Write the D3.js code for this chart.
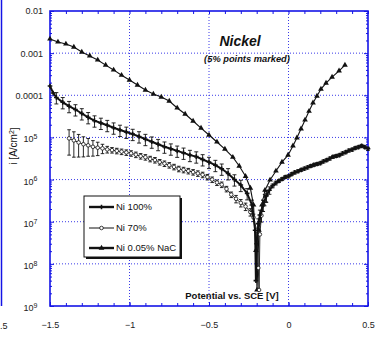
<!DOCTYPE html>
<html>
<head>
<meta charset="utf-8">
<script src="https://cdn.jsdelivr.net/npm/d3@7"></script>
<style>
  body { margin: 0; background: #fff; }
  svg { display: block; font-family: Arial, "Liberation Sans", sans-serif; }
</style>
</head>
<body>
<svg id="chart" width="376" height="340"></svg>
<script>
// potentials [V vs SCE] and current densities [A/cm2]
var ni100V = [-1.50,-1.48,-1.46,-1.42,-1.38,-1.34,-1.30,-1.26,-1.22,-1.18,-1.14,-1.10,-1.06,-1.02,-0.98,-0.94,-0.90,-0.86,-0.82,-0.78,-0.74,-0.70,-0.66,-0.62,-0.58,-0.54,-0.50,-0.46,-0.42,-0.38,-0.34,-0.30,-0.26,-0.23,-0.21,-0.205,-0.20,-0.19,-0.18,-0.16,-0.14,-0.12,-0.10,-0.08,-0.06,-0.04,-0.02,0.00,0.02,0.04,0.06,0.08,0.10,0.12,0.14,0.16,0.18,0.20,0.22,0.24,0.26,0.28,0.30,0.32,0.34,0.36,0.38,0.40,0.42,0.44,0.46,0.48,0.50];
var ni100I = [1.66e-4,1.13e-4,8.9e-5,6.8e-5,5.5e-5,4.6e-5,3.7e-5,3.0e-5,2.5e-5,2.2e-5,1.95e-5,1.7e-5,1.5e-5,1.35e-5,1.2e-5,1.05e-5,9.1e-6,7.9e-6,6.9e-6,6.0e-6,5.4e-6,4.8e-6,4.3e-6,3.8e-6,3.5e-6,3.0e-6,2.6e-6,2.2e-6,1.8e-6,1.4e-6,1.0e-6,7.4e-7,4.7e-7,2.5e-7,6.3e-8,4.0e-9,3.0e-8,9.0e-8,1.45e-7,2.5e-7,4.1e-7,5.6e-7,7.1e-7,8.3e-7,9.3e-7,1.03e-6,1.15e-6,1.2e-6,1.35e-6,1.48e-6,1.58e-6,1.7e-6,1.82e-6,1.95e-6,2.1e-6,2.24e-6,2.34e-6,2.45e-6,2.7e-6,2.9e-6,3.16e-6,3.47e-6,3.63e-6,3.8e-6,4.17e-6,4.47e-6,4.9e-6,5.13e-6,5.6e-6,5.9e-6,6.3e-6,5.9e-6,5.4e-6];
// relative error (fraction of i)
var ni100Err = [0,0,0.3,0.3,0.3,0.3,0.3,0.3,0.3,0.3,0.3,0.3,0.3,0.3,0.3,0.3,0.3,0.3,0.3,0.3,0.3,0.3,0.3,0.3,0.3,0.3,0.3,0.3,0.3,0.3,0.3,0.3,0.3,0.3,0,0,0,0.3,0.3,0.3,0.3,0.2,0.1,0.1,0.08,0.08,0.08,0.08,0.08,0.08,0.08,0.08,0.08,0.08,0.08,0.08,0.08,0.08,0.08,0.08,0.08,0.08,0.08,0.08,0.08,0.08,0.08,0.08,0.08,0.08,0.08,0.08,0.08];

var ni70V = [-1.38,-1.35,-1.32,-1.29,-1.26,-1.23,-1.20,-1.17,-1.14,-1.11,-1.08,-1.05,-1.02,-0.99,-0.96,-0.93,-0.90,-0.87,-0.84,-0.81,-0.78,-0.75,-0.72,-0.69,-0.66,-0.63,-0.60,-0.57,-0.54,-0.51,-0.48,-0.45,-0.42,-0.39,-0.36,-0.33,-0.30,-0.27,-0.24,-0.22,-0.20,-0.19,-0.185,-0.18,-0.17,-0.16,-0.15,-0.14];
var ni70I = [9.5e-6,8.5e-6,7.6e-6,6.9e-6,6.5e-6,6.0e-6,5.7e-6,5.5e-6,5.2e-6,5.0e-6,4.8e-6,4.6e-6,4.4e-6,4.2e-6,3.9e-6,3.6e-6,3.4e-6,3.1e-6,2.9e-6,2.6e-6,2.4e-6,2.2e-6,2.0e-6,1.8e-6,1.7e-6,1.6e-6,1.5e-6,1.4e-6,1.3e-6,1.15e-6,1.0e-6,8.5e-7,7.6e-7,6.0e-7,4.4e-7,3.5e-7,2.8e-7,2.3e-7,1.7e-7,1.26e-7,6.3e-8,8.0e-9,2.4e-9,5.0e-8,1.4e-7,2.5e-7,3.4e-7,4.2e-7];
var ni70Err = [0.6,0.6,0.55,0.5,0.45,0.4,0.35,0.25,0.18,0.15,0.15,0.15,0.15,0.15,0.15,0.15,0.15,0.15,0.15,0.15,0.15,0.15,0.15,0.15,0.15,0.15,0.15,0.15,0.15,0.15,0.15,0.15,0.15,0.15,0.15,0.2,0.2,0.2,0.2,0.2,0,0,0,0,0.3,0.3,0.3,0.3];

var nacV = [-1.50,-1.45,-1.40,-1.35,-1.30,-1.25,-1.20,-1.15,-1.10,-1.05,-1.00,-0.95,-0.90,-0.85,-0.80,-0.75,-0.70,-0.65,-0.60,-0.55,-0.50,-0.45,-0.40,-0.35,-0.31,-0.27,-0.24,-0.22,-0.205,-0.198,-0.186,-0.167,-0.148,-0.116,-0.079,-0.041,-0.003,0.028,0.053,0.079,0.104,0.129,0.154,0.179,0.204,0.236,0.274,0.318,0.355];
var nacI = [2.17e-3,1.84e-3,1.65e-3,1.40e-3,1.06e-3,8.6e-4,6.9e-4,5.2e-4,4.0e-4,3.0e-4,2.3e-4,1.75e-4,1.33e-4,1.07e-4,9.1e-5,7.3e-5,5.0e-5,3.6e-5,2.45e-5,1.67e-5,1.14e-5,7.8e-6,5.3e-6,3.4e-6,2.1e-6,1.2e-6,6.3e-7,2.5e-7,2.1e-8,2.4e-9,6.3e-8,2.5e-7,5.6e-7,9.8e-7,1.6e-6,2.6e-6,3.8e-6,6.3e-6,9.8e-6,1.6e-5,2.6e-5,4.2e-5,6.6e-5,9.6e-5,1.4e-4,1.95e-4,2.7e-4,3.8e-4,5.2e-4];

var seriesNames = ["Ni 100%", "Ni 70%", "Ni 0.05% NaC"];
var xTicks = [-1.5, -1, -0.5, 0, 0.5];
var yTicks = [1e-9, 1e-8, 1e-7, 1e-6, 1e-5, 1e-4, 1e-3, 1e-2];
var yTickLabels = ["9", "8", "7", "6", "5", "0.0001", "0.001", "0.01"];

var blue = "#1414e6", ink = "#111";
var svg = d3.select("#chart");
var L = 50, R = 368, T = 11, B = 306;
var x = d3.scaleLinear().domain([-1.5, 0.5]).range([L, R]);
var y = d3.scaleLog().domain([1e-9, 1e-2]).range([B, T]);

// bit of the neighbouring panel at the left edge
svg.append("line").attr("x1", 1.5).attr("x2", 1.5).attr("y1", 0).attr("y2", B)
  .attr("stroke", blue).attr("stroke-width", 1.5);
svg.append("text").attr("x", 0).attr("y", 329)
  .attr("font-size", 9).attr("fill", "#222").text(".5");

// grid
var grid = svg.append("g").attr("stroke", "#3a3ae8").attr("stroke-width", 1).attr("stroke-dasharray", "1,2");
grid.selectAll(".gx").data(xTicks.slice(1, -1)).enter().append("line")
  .attr("x1", d => x(d)).attr("x2", d => x(d)).attr("y1", T).attr("y2", B);
grid.selectAll(".gy").data(yTicks.slice(1, -1)).enter().append("line")
  .attr("y1", d => y(d)).attr("y2", d => y(d)).attr("x1", L).attr("x2", R);

// minor tick values
var yMinor = [];
yTicks.slice(0, -1).forEach(function (d) { for (var k = 2; k < 10; k++) yMinor.push(d * k); });
var xMinor = d3.range(-15, 6).map(d => d / 10);

function styleAxis(g) {
  g.select(".domain").remove();
  g.selectAll("line").attr("stroke", blue);
  g.selectAll("text").attr("fill", "#222").attr("font-size", 9);
}

svg.append("g").attr("transform", "translate(" + L + ",0)")
  .call(d3.axisLeft(y).tickValues(yMinor).tickSize(-2).tickFormat("")).call(styleAxis);
svg.append("g").attr("transform", "translate(" + R + ",0)")
  .call(d3.axisRight(y).tickValues(yMinor).tickSize(-2).tickFormat("")).call(styleAxis);
svg.append("g").attr("transform", "translate(" + R + ",0)")
  .call(d3.axisRight(y).tickValues(yTicks).tickSize(-4).tickFormat("")).call(styleAxis);
svg.append("g").attr("transform", "translate(0," + B + ")")
  .call(d3.axisBottom(x).tickValues(xMinor).tickSize(-3).tickFormat("")).call(styleAxis);
svg.append("g").attr("transform", "translate(0," + T + ")")
  .call(d3.axisTop(x).tickValues(xMinor).tickSize(-3).tickFormat("")).call(styleAxis);

var yAxis = svg.append("g").attr("transform", "translate(" + L + ",0)")
  .call(d3.axisLeft(y).tickValues(yTicks).tickSize(-4).tickPadding(7)
    .tickFormat((d, i) => yTickLabels[i])).call(styleAxis);
yAxis.selectAll("text").each(function (d, i) {
  var lab = yTickLabels[i];
  if (lab.length > 1) return;
  var t = d3.select(this).text("10").attr("x", -12.5).attr("dy", "0.5em");
  t.append("tspan").attr("dy", "-0.45em").attr("font-size", 7).text(lab);
});

svg.append("g").attr("transform", "translate(0," + B + ")")
  .call(d3.axisBottom(x).tickValues(xTicks).tickSize(-4).tickPadding(16)
    .tickFormat(d => d === 0 ? "0" : d3.format("")(d))).call(styleAxis);

// frame
svg.append("rect").attr("x", L).attr("y", T).attr("width", R - L).attr("height", B - T)
  .attr("fill", "none").attr("stroke", blue).attr("stroke-width", 1.6);

// data
var line = d3.line().x(d => x(d[0])).y(d => y(d[1]));
function pts(V, I) { return V.map((v, i) => [v, I[i]]); }
var ni100 = pts(ni100V, ni100I), ni70 = pts(ni70V, ni70I), nac = pts(nacV, nacI);

var plot = svg.append("g");

function errorBars(data, err, w) {
  var g = plot.append("g").attr("stroke", ink).attr("stroke-width", 0.9);
  data.forEach(function (d, i) {
    if (!err[i]) return;
    var y1 = y(d[1] * (1 + err[i])), y2 = y(d[1] * (1 - err[i])), cx = x(d[0]);
    g.append("line").attr("x1", cx).attr("x2", cx).attr("y1", y1).attr("y2", y2);
    g.append("line").attr("x1", cx - w).attr("x2", cx + w).attr("y1", y1).attr("y2", y1);
    g.append("line").attr("x1", cx - w).attr("x2", cx + w).attr("y1", y2).attr("y2", y2);
  });
}

// Ni 0.05% NaC
plot.append("path").datum(nac).attr("d", line).attr("fill", "none").attr("stroke", ink).attr("stroke-width", 1.1);
plot.selectAll(".tri").data(nac).enter().append("path")
  .attr("transform", d => "translate(" + x(d[0]) + "," + y(d[1]) + ")")
  .attr("d", d3.symbol(d3.symbolTriangle, 14)).attr("fill", ink);

// Ni 70%
errorBars(ni70, ni70Err, 1.8);
plot.append("path").datum(ni70).attr("d", line).attr("fill", "none").attr("stroke", ink).attr("stroke-width", 0.9);
plot.selectAll(".circ").data(ni70).enter().append("circle")
  .attr("cx", d => x(d[0])).attr("cy", d => y(d[1])).attr("r", 1.8)
  .attr("fill", "#fff").attr("stroke", ink).attr("stroke-width", 0.8);

// Ni 100%
errorBars(ni100, ni100Err, 2);
plot.append("path").datum(ni100).attr("d", line).attr("fill", "none").attr("stroke", ink).attr("stroke-width", 2);
plot.selectAll(".cross").data(ni100).enter().append("path")
  .attr("transform", d => "translate(" + x(d[0]) + "," + y(d[1]) + ")")
  .attr("d", d3.symbol(d3.symbolCross, 12)).attr("fill", ink);

// labels
svg.append("text").attr("x", 240).attr("y", 46).attr("text-anchor", "middle")
  .attr("font-size", 14).attr("font-weight", "bold").attr("font-style", "italic").attr("fill", ink).text("Nickel");
svg.append("text").attr("x", 247).attr("y", 62).attr("text-anchor", "middle")
  .attr("font-size", 9.3).attr("font-weight", "bold").attr("font-style", "italic").attr("fill", ink).text("(5% points marked)");
svg.append("text").attr("x", 232).attr("y", 299).attr("text-anchor", "middle")
  .attr("font-size", 9.5).attr("font-weight", "bold").attr("fill", ink).text("Potential vs. SCE [V]");
var yl = svg.append("text").attr("transform", "translate(16.5,146) rotate(-90)").attr("text-anchor", "middle")
  .attr("font-size", 10).attr("fill", ink).text("i [A/cm");
yl.append("tspan").attr("dy", "-0.4em").attr("font-size", 7).text("2");
yl.append("tspan").attr("dy", "0.4em").text("]");

// legend
var lg = svg.append("g");
lg.append("rect").attr("x", 86).attr("y", 198).attr("width", 96).attr("height", 61).attr("fill", ink);
lg.append("rect").attr("x", 84).attr("y", 196).attr("width", 96).attr("height", 61)
  .attr("fill", "#fff").attr("stroke", ink).attr("stroke-width", 1);
var ly = [207, 228, 248], lw = [2.4, 1, 2.4];
seriesNames.forEach(function (name, i) {
  lg.append("line").attr("x1", 89).attr("x2", 114).attr("y1", ly[i]).attr("y2", ly[i])
    .attr("stroke", ink).attr("stroke-width", lw[i]);
  if (i === 0) lg.append("path").attr("transform", "translate(101.5," + ly[i] + ")").attr("d", d3.symbol(d3.symbolCross, 12)).attr("fill", ink);
  if (i === 1) lg.append("circle").attr("cx", 101.5).attr("cy", ly[i]).attr("r", 1.8).attr("fill", "#fff").attr("stroke", ink).attr("stroke-width", 0.8);
  if (i === 2) lg.append("path").attr("transform", "translate(101.5," + ly[i] + ")").attr("d", d3.symbol(d3.symbolTriangle, 14)).attr("fill", ink);
  lg.append("text").attr("x", 116).attr("y", ly[i]).attr("dy", "0.35em")
    .attr("font-size", 9.5).attr("fill", ink).text(name);
});
</script>
</body>
</html>
